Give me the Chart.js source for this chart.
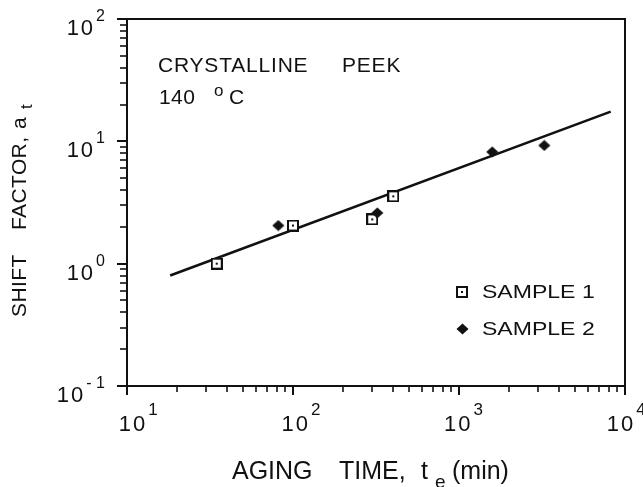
<!DOCTYPE html>
<html>
<head>
<meta charset="utf-8">
<script src="https://cdn.jsdelivr.net/npm/chart.js@4/dist/chart.umd.min.js"></script>
<style>
  html, body { margin: 0; padding: 0; background: #fff; }
  #wrap { width: 643px; height: 487px; }
</style>
</head>
<body>
<div id="wrap"><canvas id="c" width="643" height="487"></canvas></div>
<script>
// Shift factor a_t versus aging time t_e, crystalline PEEK at 140 °C
const sample1Time  = [34.7, 100, 300, 402];
const sample1Shift = [1.00, 2.05, 2.30, 3.55];
const sample2Time  = [81.5, 322, 1585, 3265];
const sample2Shift = [2.05, 2.60, 8.20, 9.25];
// straight-line fit on log-log axes (end points)
const fitTime  = [18.2, 8200];
const fitShift = [0.80, 17.5];

const xDecades   = [10, 100, 1000, 10000];
const xExponents = ['1', '2', '3', '4'];
const yDecades   = [0.1, 1, 10, 100];
const yExponents = ['- 1', '0', '1', '2'];

const seriesNames = ['SAMPLE 1', 'SAMPLE 2'];
const noteLines = ['CRYSTALLINE', 'PEEK', '140', 'C'];

const FONT = '"Liberation Sans", Arial, Helvetica, sans-serif';
const INK = '#111';

function toPoints(xs, ys) { return xs.map((x, i) => ({ x: x, y: ys[i] })); }

function squareMarker() {
  const c = document.createElement('canvas');
  c.width = 12; c.height = 12;
  const g = c.getContext('2d');
  g.fillStyle = '#fff';
  g.fillRect(1, 1, 10, 10);
  g.strokeStyle = INK; g.lineWidth = 2;
  g.strokeRect(1, 1, 10, 10);
  g.fillStyle = INK;
  g.fillRect(5, 5, 2, 2);
  return c;
}
function diamondMarker() {
  const c = document.createElement('canvas');
  c.width = 13; c.height = 12;
  const g = c.getContext('2d');
  g.fillStyle = INK;
  g.beginPath();
  g.moveTo(6.5, 0.5); g.lineTo(12.5, 6); g.lineTo(6.5, 11.5); g.lineTo(0.5, 6);
  g.closePath(); g.fill();
  return c;
}
const markers = [squareMarker(), diamondMarker()];

function text(ctx, s, x, y, size, opts) {
  opts = opts || {};
  ctx.save();
  ctx.font = size + 'px ' + FONT;
  ctx.letterSpacing = (opts.spacing || 0) + 'px';
  ctx.fillStyle = INK;
  ctx.textBaseline = 'alphabetic';
  ctx.textAlign = 'left';
  const sx = opts.stretch || 1;
  const w = ctx.measureText(s).width * sx;
  let left = x;
  if (opts.align === 'center') left = x - w / 2;
  else if (opts.align === 'right') left = x - w;
  ctx.translate(left, y);
  ctx.scale(sx, 1);
  ctx.fillText(s, 0, 0);
  ctx.restore();
  return w;
}
function measure(ctx, s, size, spacing) {
  ctx.save();
  ctx.font = size + 'px ' + FONT;
  ctx.letterSpacing = (spacing || 0) + 'px';
  const w = ctx.measureText(s).width;
  ctx.restore();
  return w;
}

const decorations = {
  id: 'decorations',
  afterDatasetsDraw(chart) {
    const ctx = chart.ctx;
    const a = chart.chartArea;
    const xs = chart.scales.x, ys = chart.scales.y;
    ctx.save();
    ctx.strokeStyle = INK;
    ctx.lineCap = 'butt';

    // frame
    ctx.lineWidth = 2;
    ctx.strokeRect(a.left, a.top, a.right - a.left, a.bottom - a.top);

    // x ticks (outward, below the axis)
    for (let d = 0; d < xDecades.length; d++) {
      for (let m = 1; m <= 9; m++) {
        const v = xDecades[d] * m;
        if (v > xDecades[xDecades.length - 1]) break;
        const px = Math.round(xs.getPixelForValue(v));
        const major = m === 1;
        ctx.lineWidth = major ? 2 : 1.6;
        ctx.beginPath();
        ctx.moveTo(px, a.bottom);
        ctx.lineTo(px, a.bottom + (major ? 9 : 6));
        ctx.stroke();
      }
    }
    // y ticks (outward, left of the axis)
    for (let d = 0; d < yDecades.length; d++) {
      for (let m = 1; m <= 9; m++) {
        const v = yDecades[d] * m;
        if (v > yDecades[yDecades.length - 1] * 1.0001) break;
        const py = Math.round(ys.getPixelForValue(v));
        const major = m === 1;
        ctx.lineWidth = major ? 2 : 1.6;
        ctx.beginPath();
        ctx.moveTo(a.left, py);
        ctx.lineTo(a.left - (major ? 10 : 7), py);
        ctx.stroke();
      }
    }

    // x tick labels: 10 with raised exponent; labels drift slightly inward
    const last = xDecades.length - 1;
    xDecades.forEach((v, i) => {
      const px = xs.getPixelForValue(v) + 5 - 10 * i / last;
      const w10 = measure(ctx, '10', 22, 2);
      const left = px - (w10 - 2) / 2;
      text(ctx, '10', left, a.bottom + 45, 22, { spacing: 2 });
      text(ctx, xExponents[i], left + w10 + 1, a.bottom + 29, 17);
    });
    // y tick labels, right aligned
    yDecades.forEach((v, i) => {
      const py = ys.getPixelForValue(v);
      const wExp = measure(ctx, yExponents[i], 16, 0);
      const w10 = measure(ctx, '10', 22, 2);
      const right = 105;
      const expLeft = right - wExp;
      text(ctx, '10', expLeft - 1 - w10, py + 16, 22, { spacing: 2 });
      text(ctx, yExponents[i], expLeft, py + 2, 16);
    });

    // axis titles
    text(ctx, 'AGING', 232, 479, 25);
    text(ctx, 'TIME,', 339, 479, 25);
    text(ctx, 't', 421, 479, 25);
    text(ctx, 'e', 435, 488, 19);
    text(ctx, '(min)', 452, 479, 25);

    ctx.save();
    ctx.translate(26, 0);
    ctx.rotate(-Math.PI / 2);
    // rotated frame: x runs upward (negated page y), y runs rightward
    text(ctx, 'SHIFT', -317, 0, 21, { spacing: 0.4 });
    text(ctx, 'FACTOR,', -230, 0, 21, { spacing: 0.4 });
    text(ctx, 'a', -129, 0, 21);
    text(ctx, 't', -109, 6, 17);
    ctx.restore();

    // annotation
    text(ctx, noteLines[0], 158, 72, 21, { spacing: 0.8 });
    text(ctx, noteLines[1], 342, 72, 21, { spacing: 0.8 });
    text(ctx, noteLines[2], 159, 104, 21, { spacing: 0.4 });
    text(ctx, 'o', 214, 96, 17);
    text(ctx, noteLines[3], 229, 104, 21);

    // legend
    const legendRows = [298, 335];
    seriesNames.forEach((name, i) => {
      const mk = markers[i];
      ctx.drawImage(mk, Math.round(462 - mk.width / 2), Math.round(legendRows[i] - 6 - mk.height / 2));
      text(ctx, name, 482, legendRows[i], 18, { stretch: 1.28 });
    });

    ctx.restore();
  }
};

new Chart(document.getElementById('c'), {
  type: 'scatter',
  data: {
    datasets: [
      {
        label: seriesNames[0],
        data: toPoints(sample1Time, sample1Shift),
        pointStyle: markers[0],
        pointRadius: 6,
        order: 2
      },
      {
        label: seriesNames[1],
        data: toPoints(sample2Time, sample2Shift),
        pointStyle: markers[1],
        pointRadius: 6,
        order: 1
      },
      {
        label: 'fit',
        data: toPoints(fitTime, fitShift),
        showLine: true,
        borderColor: INK,
        borderWidth: 2.6,
        pointRadius: 0,
        order: 3
      }
    ]
  },
  options: {
    responsive: false,
    animation: false,
    events: [],
    layout: { padding: { top: 19, right: 18, left: 0, bottom: 0 } },
    plugins: { legend: { display: false }, tooltip: { enabled: false } },
    scales: {
      x: {
        type: 'logarithmic',
        min: 10, max: 10000,
        grid: { display: false },
        border: { display: false },
        ticks: { display: false },
        afterFit(scale) { scale.height = 101; }
      },
      y: {
        type: 'logarithmic',
        min: 0.1, max: 100,
        grid: { display: false },
        border: { display: false },
        ticks: { display: false },
        afterFit(scale) { scale.width = 127; }
      }
    }
  },
  plugins: [decorations]
});
</script>
</body>
</html>
